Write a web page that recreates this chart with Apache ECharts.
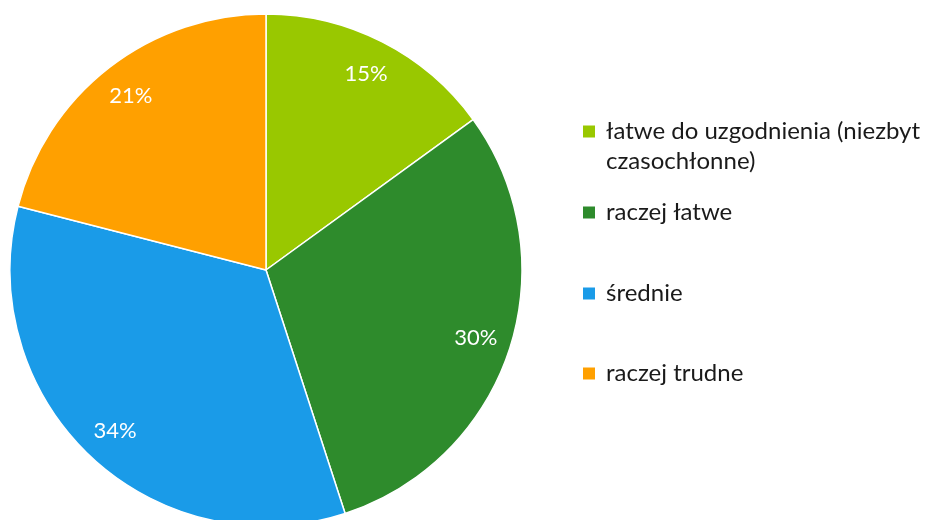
<!DOCTYPE html>
<html><head><meta charset="utf-8">
<script src="https://cdn.jsdelivr.net/npm/echarts@6/dist/echarts.min.js"></script>
<style>html,body{margin:0;padding:0;background:#fff}#c{width:936px;height:520px}</style>
</head><body><div id="c"></div>
<script>
const categories = ['łatwe do uzgodnienia (niezbyt czasochłonne)', 'raczej łatwe', 'średnie', 'raczej trudne'];
const values = [15, 30, 34, 21];
const colors = ['#99C800', '#2E8B2C', '#1A9BE8', '#FFA000'];
const legendLabels = [' \nłatwe do uzgodnienia (niezbyt\nczasochłonne)', 'raczej łatwe', 'średnie', 'raczej trudne'];

const FONT = 'Lato, "Open Sans", sans-serif';
const data = categories.map((n, i) => ({ name: n, value: values[i], itemStyle: { color: colors[i] } }));
const legendTops = [83, 194, 275, 355];

const chart = echarts.init(document.getElementById('c'), null, { renderer: 'canvas' });
chart.setOption({
  animation: false,
  backgroundColor: '#fff',
  legend: categories.map((n, i) => ({
    data: [n],
    left: 576,
    top: legendTops[i] - 1.5,
    orient: 'vertical',
    icon: 'rect',
    itemWidth: 14,
    itemHeight: 14,
    formatter: () => legendLabels[i],
    textStyle: {
      fontFamily: FONT, fontSize: 24, color: '#1a1a1a', lineHeight: 30,
      padding: [0, 0, 0, 5]
    },
    selectedMode: false
  })),
  series: [
    {
      type: 'pie',
      center: [266, 270],
      radius: [0, 256],
      startAngle: 90,
      clockwise: true,
      label: { show: false },
      labelLine: { show: false },
      itemStyle: { borderColor: '#fff', borderWidth: 1.5 },
      emphasis: { disabled: true },
      data: data
    },
    {
      type: 'pie',
      center: [266, 270],
      radius: [179, 256],
      startAngle: 90,
      clockwise: true,
      silent: true,
      legendHoverLink: false,
      itemStyle: { color: 'rgba(0,0,0,0)', borderWidth: 0 },
      label: {
        show: true, position: 'inside', formatter: '{c}%',
        color: '#fff', fontFamily: FONT, fontSize: 22
      },
      labelLine: { show: false },
      emphasis: { disabled: true },
      data: categories.map((n, i) => ({ name: n + ' ', value: values[i] }))
    }
  ]
});
</script></body></html>
